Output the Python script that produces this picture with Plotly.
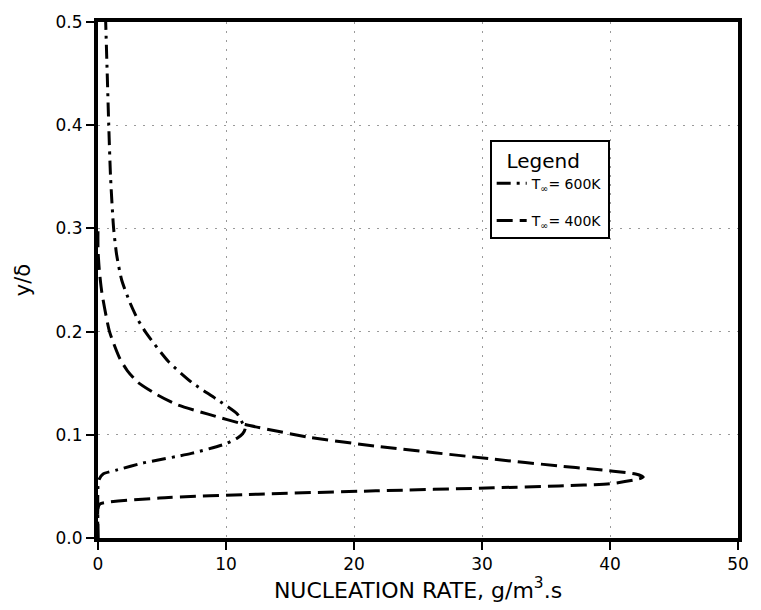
import plotly.graph_objects as go

# T_inf = 600K (dash-dot curve)
y_600 = [0.0, 0.050, 0.057, 0.062, 0.066, 0.0726, 0.082, 0.091, 0.097, 0.101, 0.106,
         0.111, 0.120, 0.135, 0.151, 0.171, 0.198, 0.212, 0.228, 0.250, 0.275, 0.300,
         0.350, 0.400, 0.450, 0.500]
x_600 = [0.0, 0.0, 0.1, 0.4, 1.5, 3.5, 7.3, 9.9, 10.9, 11.3, 11.5,
         11.3, 10.9, 9.2, 7.3, 5.5, 3.8, 3.1, 2.5, 1.85, 1.45, 1.22,
         0.98, 0.84, 0.72, 0.6]

# T_inf = 400K (dashed curve)
y_400 = [0.0, 0.029, 0.033, 0.0387, 0.0425, 0.0457, 0.0486, 0.0505, 0.0525, 0.057,
         0.059, 0.062, 0.0668, 0.0697, 0.0764, 0.089, 0.0976, 0.110, 0.120, 0.129,
         0.139, 0.151, 0.162, 0.174, 0.200, 0.238, 0.260, 0.280, 0.300]
x_400 = [0.0, 0.0, 0.15, 4.8, 12.5, 21.7, 30.9, 36.0, 40.0, 42.2,
         42.6, 42.0, 38.6, 36.1, 30.9, 21.7, 16.5, 11.5, 8.6, 6.2,
         4.6, 3.1, 2.3, 1.7, 0.9, 0.3, 0.1, 0.0, 0.0]

x_ticks = [0, 10, 20, 30, 40, 50]
y_ticks = [0.0, 0.1, 0.2, 0.3, 0.4, 0.5]

FONT = "DejaVu Sans"

fig = go.Figure()
fig.add_trace(go.Scatter(
    x=x_600, y=y_600, mode="lines", name="T<sub>∞</sub>= 600K", legendgroup="a",
    line=dict(color="black", width=3, dash="14px,6px,3px,6px", shape="spline", smoothing=0.6),
))
fig.add_trace(go.Scatter(
    x=x_400, y=y_400, mode="lines", name="T<sub>∞</sub>= 400K", legendgroup="b",
    line=dict(color="black", width=3, dash="16px,7px", shape="spline", smoothing=0.6),
))

axis_common = dict(
    showline=True, linecolor="black", linewidth=4, mirror=True,
    ticks="outside", ticklen=8, tickwidth=2, tickcolor="black",
    showgrid=True, gridcolor="#9a9a9a", gridwidth=1, griddash="2px,7px",
    zeroline=False, tickfont=dict(family=FONT, size=17, color="black"),
)

fig.update_layout(
    width=761, height=610,
    margin=dict(l=98, r=13, t=17, b=72),
    paper_bgcolor="white", plot_bgcolor="white",
    font=dict(family=FONT, color="black"),
    xaxis=dict(range=[0, 50], tickvals=x_ticks, ticktext=[str(v) for v in x_ticks],
               title=dict(text="NUCLEATION RATE, g/m<sup>3</sup>.s",
                          font=dict(family=FONT, size=22), standoff=6),
               **axis_common),
    yaxis=dict(range=[0, 0.5], tickvals=y_ticks, ticktext=[f"{v:.1f}" for v in y_ticks],
               title=dict(text="y/δ", font=dict(family=FONT, size=21), standoff=20),
               **axis_common),
    legend=dict(
        x=0.612, y=0.772, xanchor="left", yanchor="top",
        bgcolor="white", bordercolor="black", borderwidth=2,
        title=dict(text="  Legend", font=dict(family=FONT, size=20)),
        font=dict(family=FONT, size=14),
        tracegroupgap=16,
    ),
)

fig.write_html("out.html")
